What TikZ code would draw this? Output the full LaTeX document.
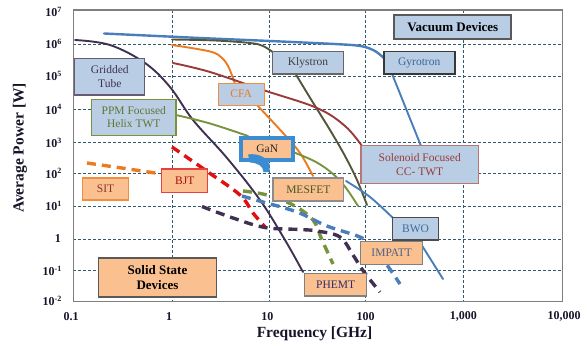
\documentclass[tikz,border=0pt]{standalone}
\usepackage{fontspec}
\setmainfont{Liberation Serif}
\definecolor{vacfill}{HTML}{B9CDE5}
\definecolor{solfill}{HTML}{FAC090}
\definecolor{gridc}{HTML}{2E5C6E}
\definecolor{framec}{HTML}{7F7F7F}
\definecolor{ticktext}{HTML}{15152A}
\definecolor{navyc}{HTML}{403152}
\definecolor{bluec}{HTML}{4A7EBB}
\definecolor{olivec}{HTML}{55553A}
\definecolor{orangec}{HTML}{EC7A1E}
\definecolor{darkredc}{HTML}{9A3A38}
\definecolor{greenc}{HTML}{77933C}
\definecolor{redc}{HTML}{E01010}
\definecolor{ganblue}{HTML}{3C8CD2}
\begin{document}
\begin{tikzpicture}[x=1pt,y=-1pt,
  gridline/.style={draw=gridc, line width=0.8pt, dash pattern=on 3pt off 2pt},
  ticklbl/.style={font=\bfseries\fontsize{12}{14}\selectfont, text=ticktext, inner sep=0pt},
  axtitle/.style={font=\bfseries\fontsize{15.5}{18}\selectfont, text=ticktext, inner sep=0pt},
  curve/.style={line width=1.9pt, line cap=round},
  dcurve/.style={line width=3.4pt, dash pattern=on 9pt off 6pt},
  lbl/.style={font=\fontsize{11.5}{13.5}\selectfont, align=center, inner sep=0pt, line width=1.3pt},
  vac/.style={lbl, fill=vacfill},
  sol/.style={lbl, fill=solfill},
  heading/.style={font=\bfseries\fontsize{13}{15}\selectfont, align=center, inner sep=0pt, line width=1.8pt, draw=black!65},
]
\useasboundingbox (0,0) rectangle (588,345);

% grid and frame
\foreach \gx in {172,269.3,365,463.3}
  \draw[gridline] (\gx,10) -- (\gx,301.7);
\foreach \gy in {44,76,109.3,142.7,173.3,206,239,270.7}
  \draw[gridline] (73.3,\gy) -- (562.7,\gy);
\draw[draw=framec, line width=1.2pt] (73.3,10) rectangle (562.7,301.7);

% power axis ticks
\node[ticklbl, anchor=east] (y7) at (62,12) {10\textsuperscript{7}};
\node[ticklbl, anchor=east] (y6) at (62,44) {10\textsuperscript{6}};
\node[ticklbl, anchor=east] (y5) at (62,76) {10\textsuperscript{5}};
\node[ticklbl, anchor=east] (y4) at (62,109.3) {10\textsuperscript{4}};
\node[ticklbl, anchor=east] (y3) at (62,142.7) {10\textsuperscript{3}};
\node[ticklbl, anchor=east] (y2) at (62,173.3) {10\textsuperscript{2}};
\node[ticklbl, anchor=east] (y1) at (62,206) {10\textsuperscript{1}};
\node[ticklbl, anchor=east] (y0) at (61,239) {1};
\node[ticklbl, anchor=east] (ym1) at (62,270.7) {10\textsuperscript{-1}};
\node[ticklbl, anchor=east] (ym2) at (62,301) {10\textsuperscript{-2}};

% frequency axis ticks
\node[ticklbl] (x0) at (71,316.7) {0.1};
\node[ticklbl] (x1) at (169,316.7) {1};
\node[ticklbl] (x2) at (267.3,316.7) {10};
\node[ticklbl] (x3) at (365.5,316.7) {100};
\node[ticklbl] (x4) at (463.3,316.7) {1,000};
\node[ticklbl] (x5) at (564,316.7) {10,000};

\node[axtitle] (xt) at (314.5,334) {Frequency [GHz]};
\node[axtitle, rotate=90] (yt) at (20,148) {Average Power [W]};

% vacuum device curves
\draw[curve, navyc] plot[smooth, tension=0.6] coordinates
  {(75,40) (110,45) (145,63) (170,87) (193,120) (227,158) (260,200) (285,240) (303,272)};
\draw[curve, bluec, line width=2.4pt] plot[smooth, tension=0.55] coordinates
  {(104,33.5) (200,38) (270,41) (340,44.3) (362,46.3) (375,51) (385,59)};
\draw[curve, olivec] plot[smooth, tension=0.6] coordinates
  {(172,39.5) (215,40.5) (250,43) (263,46) (274,53)};
\draw[curve, olivec] plot[smooth, tension=0.6] coordinates
  {(295,73) (312,101) (330,130) (345,156) (357,180) (367,205)};
\draw[curve, orangec] plot[smooth, tension=0.6] coordinates
  {(172,45) (210,51.5) (222,58) (229,68) (235,84)};
\draw[curve, orangec] plot[smooth, tension=0.6] coordinates
  {(256,104) (283,133) (300,153) (313,176)};
\draw[curve, darkredc] plot[smooth, tension=0.6] coordinates
  {(173,63) (210,72) (263,90) (317,108) (345,126) (362,146)};
\draw[curve, greenc] plot[smooth, tension=0.6] coordinates
  {(176,115) (210,123.5) (248,136)};
\draw[curve, greenc] plot[smooth, tension=0.6] coordinates
  {(293,152) (316,162) (333,174) (346,188) (358,206)};
\draw[curve, bluec] plot[smooth, tension=0.6] coordinates
  {(346,181) (370,197) (394,219)};
\draw[curve, bluec] plot[smooth, tension=0.6] coordinates
  {(421,244) (443,279)};
\draw[curve, bluec] (391.7,73) -- (421,146);

% solid state device curves
\draw[dcurve, orangec] plot[smooth, tension=0.6] coordinates
  {(87,163) (125,168.5) (162,174)};
\draw[dcurve, redc] plot[smooth, tension=0.6] coordinates
  {(172,147) (208,172) (240,195) (253,213) (266,228)};
\draw[dcurve, greenc] plot[smooth, tension=0.6] coordinates
  {(243,191) (267,195) (293,205) (313,220) (322,240) (333,264)};
\draw[dcurve, bluec] plot[smooth, tension=0.6] coordinates
  {(242,196) (263,202) (297,212) (327,226) (360,237) (372,246) (387,265) (400,284)};
\draw[dcurve, navyc] plot[smooth, tension=0.6] coordinates
  {(202,206.5) (233,218) (265,227.5) (300,229.5) (317,231) (340,237) (353,255) (364,272) (380,292)};

% device labels
\node[heading, fill=vacfill, minimum width=117, minimum height=24] (vacuum) at (452.8,27.2) {Vacuum Devices};
\node[vac, draw=black!78, line width=1.6pt, text=bluec!80!black, minimum width=71, minimum height=22.5] (gyro) at (419.2,62.8) {Gyrotron};
\node[vac, draw=black!60, text=black!75, minimum width=71, minimum height=22.5] (kly) at (308,62.8) {Klystron};
\node[vac, draw=navyc!80, text=navyc, minimum width=70, minimum height=36.5] (grid) at (109.8,76.8) {Gridded\\Tube};
\node[vac, draw=greenc, text=greenc!80!black, minimum width=84.5, minimum height=36] (ppm) at (133.8,117.2) {PPM Focused\\Helix TWT};
\node[vac, draw=orangec!85, text=orangec, minimum width=46, minimum height=22] (cfa) at (241.2,94.2) {CFA};
\node[vac, draw=darkredc!70, text=darkredc, minimum width=117.5, minimum height=37.5] (solen) at (419.7,164.5) {Solenoid Focused\\CC- TWT};
\node[vac, draw=black!70, text=bluec!85!black, minimum width=46, minimum height=22.5] (bwo) at (415.5,228.8) {BWO};

\node[sol, draw=ganblue, line width=3.6pt, text=black!85, minimum width=52, minimum height=22] (gan) at (267.2,148.8) {GaN};
\fill[ganblue] (248,154.5) .. controls (258,153) and (266,157) .. (269.5,164) -- (269.5,172)
  -- (263.5,172) .. controls (263,166) and (258,163) .. (250,162.5) -- cycle;
\node[sol, draw=orangec!85, text=darkredc!90!black, minimum width=46, minimum height=22] (sit) at (105.5,189) {SIT};
\node[sol, draw=redc!80, text=redc!75!black, minimum width=46, minimum height=23.5] (bjt) at (184.7,180.8) {BJT};
\node[sol, draw=black!45, text=greenc!60!black, minimum width=70.5, minimum height=23] (mesfet) at (308.3,189.5) {MESFET};
\node[sol, draw=black!50, text=navyc!50!bluec!80!gray, minimum width=62, minimum height=22.5] (impatt) at (391.7,253) {IMPATT};
\node[sol, draw=black!50, text=navyc!85!blue, minimum width=62, minimum height=22.5] (phemt) at (335.7,284.7) {PHEMT};
\node[heading, fill=solfill, minimum width=118, minimum height=38.5] (solid) at (157.5,277.5) {Solid State\\Devices};
\end{tikzpicture}
\end{document}
